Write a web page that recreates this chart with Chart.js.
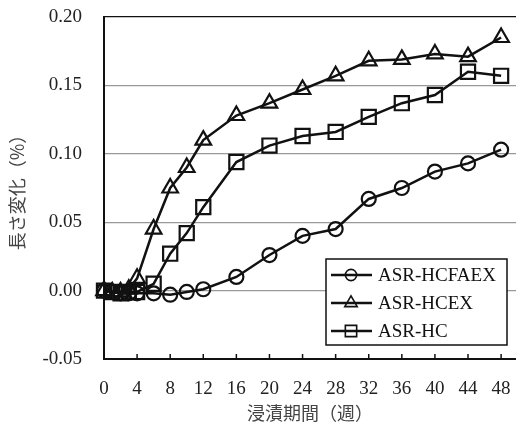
<!DOCTYPE html>
<html lang="ja">
<head>
<meta charset="UTF-8">
<title>長さ変化</title>
<script src="https://cdn.jsdelivr.net/npm/chart.js@4.4.1/dist/chart.umd.min.js"></script>
<style>
body{margin:0;background:#fff;}
#wrap{width:516px;height:430px;}
</style>
</head>
<body>
<div id="wrap"><canvas id="c" width="516" height="430"></canvas></div>
<script>
const weeks=[0,1,2,3,4,6,8,10,12,16,20,24,28,32,36,40,44,48];
const hcfaex=[0,-0.001,-0.002,-0.002,-0.002,-0.002,-0.003,-0.001,0.001,0.010,0.026,0.040,0.045,0.067,0.075,0.087,0.093,0.103];
const hcex=[0,-0.001,-0.001,0.001,0.009,0.045,0.075,0.090,0.110,0.128,0.137,0.147,0.157,0.168,0.169,0.173,0.171,0.185];
const hc=[0,-0.001,-0.002,-0.001,-0.001,0.005,0.027,0.042,0.061,0.094,0.106,0.113,0.116,0.127,0.137,0.143,0.160,0.157];
const xTicks=[0,4,8,12,16,20,24,28,32,36,40,44,48];
const names=['ASR-HCFAEX','ASR-HCEX','ASR-HC'];
const styles=['circle','triangle','rect'];
const radii=[7,9,10];

const serif='"Liberation Serif","Times New Roman",serif';
const jp='"Noto Sans CJK JP","Noto Sans CJK SC",sans-serif';

function series(i,vals){
  return {label:names[i],data:weeks.map((w,k)=>({x:w,y:vals[k]})),
    borderColor:'#111',borderWidth:2.5,backgroundColor:'transparent',
    pointStyle:styles[i],pointRadius:radii[i],pointHoverRadius:radii[i],
    pointBorderWidth:2.2,pointBorderColor:'#111',pointBackgroundColor:'transparent',
    tension:0,clip:false};
}

// inward tick marks on the x axis
const tickMarks={id:'tickMarks',afterDatasetsDraw(ch){
  const ctx=ch.ctx,x=ch.scales.x,y0=ch.chartArea.bottom;
  ctx.save();ctx.strokeStyle='#111';ctx.lineWidth=1.5;
  xTicks.forEach(v=>{if(v===0)return;const px=x.getPixelForValue(v);
    ctx.beginPath();ctx.moveTo(px,y0);ctx.lineTo(px,y0-5);ctx.stroke();});
  ctx.restore();
}};

// boxed legend in the lower right of the plot
const boxLegend={id:'boxLegend',afterDatasetsDraw(ch){
  const ctx=ch.ctx,a=ch.chartArea;
  const r=a.right-9,l=r-181,t=a.bottom-100,b=a.bottom-14;
  ctx.save();
  ctx.fillStyle='#fff';ctx.fillRect(l,t,r-l,b-t);
  ctx.strokeStyle='#111';ctx.lineWidth=1.5;ctx.strokeRect(l,t,r-l,b-t);
  ch.data.datasets.forEach((ds,i)=>{
    const cy=t+16+i*28,lx=l+5,mx=l+25;
    ctx.strokeStyle='#111';ctx.lineWidth=2.5;
    ctx.beginPath();ctx.moveTo(lx,cy);ctx.lineTo(lx+41,cy);ctx.stroke();
    ctx.lineWidth=1.6;ctx.fillStyle='rgba(0,0,0,0)';
    Chart.helpers.drawPoint(ctx,{pointStyle:ds.pointStyle,radius:ds.pointRadius*0.8,rotation:0,borderWidth:1.6},mx,cy);
    ctx.fillStyle='#111';ctx.font='19px '+serif;ctx.textBaseline='middle';
    ctx.fillText(ds.label,l+52,cy+1);
  });
  ctx.restore();
}};

new Chart(document.getElementById('c'),{
  type:'line',
  data:{datasets:[series(0,hcfaex),series(1,hcex),series(2,hc)]},
  options:{
    responsive:false,animation:false,
    layout:{autoPadding:false,padding:{top:17,right:0,left:0,bottom:0}},
    plugins:{legend:{display:false},tooltip:{enabled:false}},
    scales:{
      x:{type:'linear',min:0,max:49.8,
        afterBuildTicks:s=>{s.ticks=xTicks.map(v=>({value:v}));},
        afterFit:s=>{s.height=71;s.paddingLeft=0;s.paddingRight=0;},
        grid:{display:false,drawTicks:false},
        border:{color:'#111',width:2},
        ticks:{padding:19,font:{family:serif,size:19},color:'#222',maxRotation:0,autoSkip:false},
        title:{display:true,text:'浸漬期間（週）',font:{family:jp,size:18},color:'#444',padding:{top:0,bottom:6}}
      },
      y:{min:-0.05,max:0.2,
        afterFit:s=>{s.width=104;s.paddingTop=0;s.paddingBottom=0;},
        ticks:{stepSize:0.05,padding:22,font:{family:serif,size:19},color:'#222',callback:v=>v.toFixed(2)},
        grid:{drawTicks:false,tickLength:0,lineWidth:1.2,
          color:c=>{const v=c.tick&&c.tick.value;if(v>0.19)return '#111';if(v<-0.04)return 'rgba(0,0,0,0)';return '#999';}},
        border:{color:'#111',width:2},
        title:{display:true,text:'長さ変化（%）',font:{family:jp,size:18},color:'#444',padding:{top:6,bottom:0}}
      }
    }
  },
  plugins:[tickMarks,boxLegend]
});
</script>
</body>
</html>
